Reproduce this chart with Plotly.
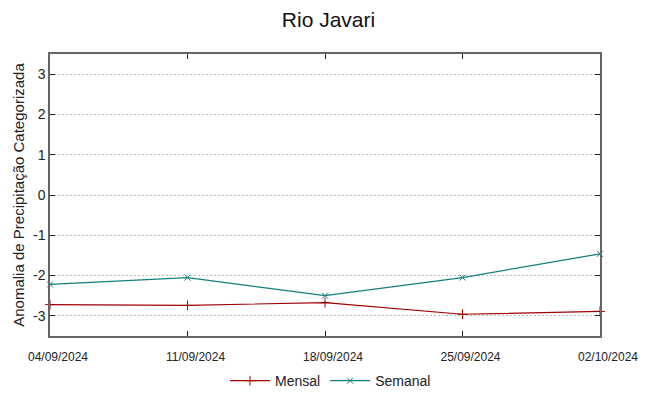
import plotly.graph_objects as go

dates = ["04/09/2024", "11/09/2024", "18/09/2024", "25/09/2024", "02/10/2024"]
mensal = [-2.72, -2.74, -2.67, -2.96, -2.89]
semanal = [-2.22, -2.05, -2.50, -2.05, -1.46]
y_ticks = [-3, -2, -1, 0, 1, 2, 3]
y_labels = ["-3", "-2", "-1", "0", "1", "2", "3"]

FONT = "Liberation Sans, Arial, sans-serif"

fig = go.Figure()
fig.add_trace(go.Scatter(
    x=dates, y=mensal, name="Mensal", mode="lines+markers",
    line=dict(color="#a00000", width=1.2),
    marker=dict(symbol="cross-thin", size=7, line=dict(color="#a00000", width=1)),
    cliponaxis=False,
))
fig.add_trace(go.Scatter(
    x=dates, y=semanal, name="Semanal", mode="lines+markers",
    line=dict(color="#117f7f", width=1.2),
    marker=dict(symbol="x-thin", size=6, line=dict(color="#117f7f", width=1)),
    cliponaxis=False,
))

# page body has an 8px default margin; the figure is sized to fit the window
fig.update_layout(
    width=641, height=388,
    margin=dict(l=42, r=49, t=46, b=60, autoexpand=False),
    paper_bgcolor="white", plot_bgcolor="white",
    font=dict(family=FONT, color="#222", size=14),
    title=dict(text="Rio Javari", x=0.5, xanchor="center", y=0.969, yanchor="middle",
               font=dict(size=21, color="#111")),
    showlegend=True,
    legend=dict(orientation="h", x=0.51, xanchor="center", y=-0.16, yanchor="middle",
                font=dict(size=14, color="#222"), itemwidth=40, bgcolor="rgba(0,0,0,0)"),
)
fig.update_xaxes(
    type="category", range=[0, len(dates) - 1], automargin=False,
    tickmode="array", tickvals=dates, ticktext=dates,
    ticks="inside", ticklen=5, tickcolor="#222", mirror="ticks",
    showline=True, linecolor="#666", linewidth=1.5,
    showgrid=False, zeroline=False,
    tickfont=dict(size=12, color="#222"), ticklabelstandoff=9, ticklabelshift=8,
)
fig.update_yaxes(
    range=[-3.5, 3.5], tickmode="array", tickvals=y_ticks, ticktext=y_labels,
    automargin=False,
    ticks="inside", ticklen=5, tickcolor="#222", mirror="ticks",
    showline=True, linecolor="#666", linewidth=1.5,
    showgrid=True, gridcolor="#bbbbbb", griddash="2px,2px", gridwidth=1,
    zeroline=False,
    tickfont=dict(size=14, color="#222"),
    title=dict(text="Anomalia de Precipitação Categorizada", font=dict(size=15, color="#222"), standoff=5),
)

fig.write_html("out.html")
